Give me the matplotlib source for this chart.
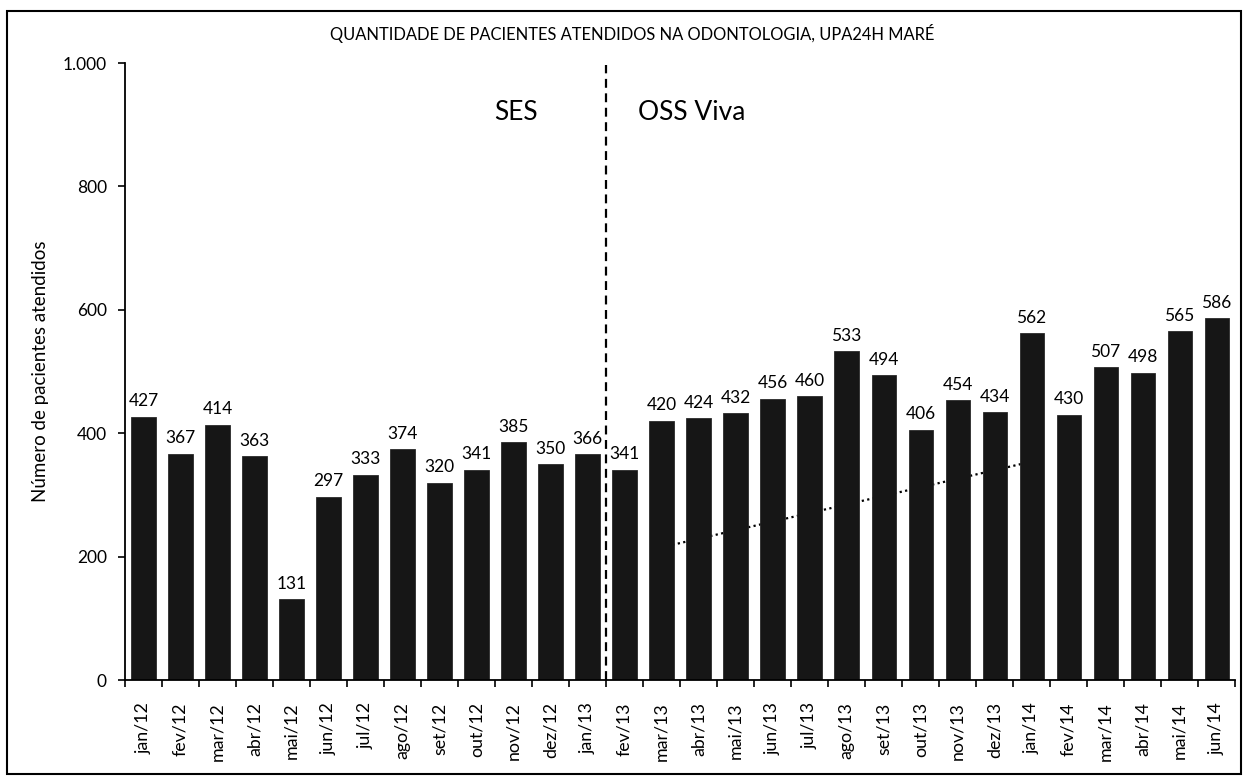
import numpy as np
import matplotlib
matplotlib.use("Agg")
import matplotlib.pyplot as plt
from matplotlib.patches import Rectangle

plt.rcParams['font.family'] = ['Lato', 'DejaVu Sans']

# ── Dados ─────────────────────────────────────────────────────────────────
meses = ['jan/12', 'fev/12', 'mar/12', 'abr/12', 'mai/12', 'jun/12', 'jul/12',
         'ago/12', 'set/12', 'out/12', 'nov/12', 'dez/12', 'jan/13',
         'fev/13', 'mar/13', 'abr/13', 'mai/13', 'jun/13', 'jul/13', 'ago/13',
         'set/13', 'out/13', 'nov/13', 'dez/13', 'jan/14', 'fev/14', 'mar/14',
         'abr/14', 'mai/14', 'jun/14']
pacientes = [427, 367, 414, 363, 131, 297, 333, 374, 320, 341, 385, 350, 366,
             341, 420, 424, 432, 456, 460, 533, 494, 406, 454, 434, 562, 430,
             507, 498, 565, 586]

# linha de tendência (pontilhada, atrás das barras)
tend_x = [14, 24]
tend_y = [215, 354]

yticks = [0, 200, 400, 600, 800, 1000]
ytick_labels = ['0', '200', '400', '600', '800', '1.000']

# ── Figura ────────────────────────────────────────────────────────────────
fig = plt.figure(figsize=(12.45, 7.77), dpi=100)
ax = fig.add_axes([0.1004, 0.1248, 0.8916, 0.7941])

x = np.arange(len(meses))
ax.plot(tend_x, tend_y, color='black', linestyle=(0, (1, 1.5)), linewidth=1.6, zorder=1)
ax.bar(x, pacientes, width=0.65, color='#161616', edgecolor='#2a2a2a',
       linewidth=0.6, zorder=2)

for xi, v in zip(x, pacientes):
    ax.text(xi, v + 12, str(v), ha='center', va='bottom', fontsize=12.5, zorder=3)

# divisão SES / OSS Viva
ax.plot([12.5, 12.5], [0, 997], color='black', linestyle=(0, (4, 2.5)),
        linewidth=1.6, zorder=3)
ax.text(10.07, 920, 'SES', ha='center', va='center', fontsize=19)
ax.text(14.81, 920, 'OSS Viva', ha='center', va='center', fontsize=19)

ax.set_xlim(-0.5, len(meses) - 0.5)
ax.set_ylim(0, 1000)
ax.set_yticks(yticks)
ax.set_yticklabels(ytick_labels, fontsize=12.5)
ax.set_xticks(x)
ax.set_xticklabels(meses, rotation=90, fontsize=12.8)
ax.set_xticks(np.arange(-0.5, len(meses)), minor=True)
ax.tick_params(axis='x', which='major', length=0, pad=16)
ax.tick_params(axis='x', which='minor', length=5, width=1.2, direction='out')
ax.tick_params(axis='y', length=5, width=1.2, pad=8)

for s in ['top', 'right']:
    ax.spines[s].set_visible(False)
for s in ['left', 'bottom']:
    ax.spines[s].set_linewidth(1.3)

ax.set_ylabel('Número de pacientes atendidos', fontsize=13.5, labelpad=10)
fig.text(0.508, 0.957, 'QUANTIDADE DE PACIENTES ATENDIDOS NA ODONTOLOGIA, UPA24H MARÉ',
         ha='center', va='center', fontsize=11.9)

# moldura do gráfico
fig.patches.append(Rectangle((7 / 1245, 3 / 777), 1234 / 1245, 763 / 777,
                             transform=fig.transFigure, fill=False,
                             edgecolor='black', linewidth=1.5))

fig.savefig('out.png', dpi=100)
